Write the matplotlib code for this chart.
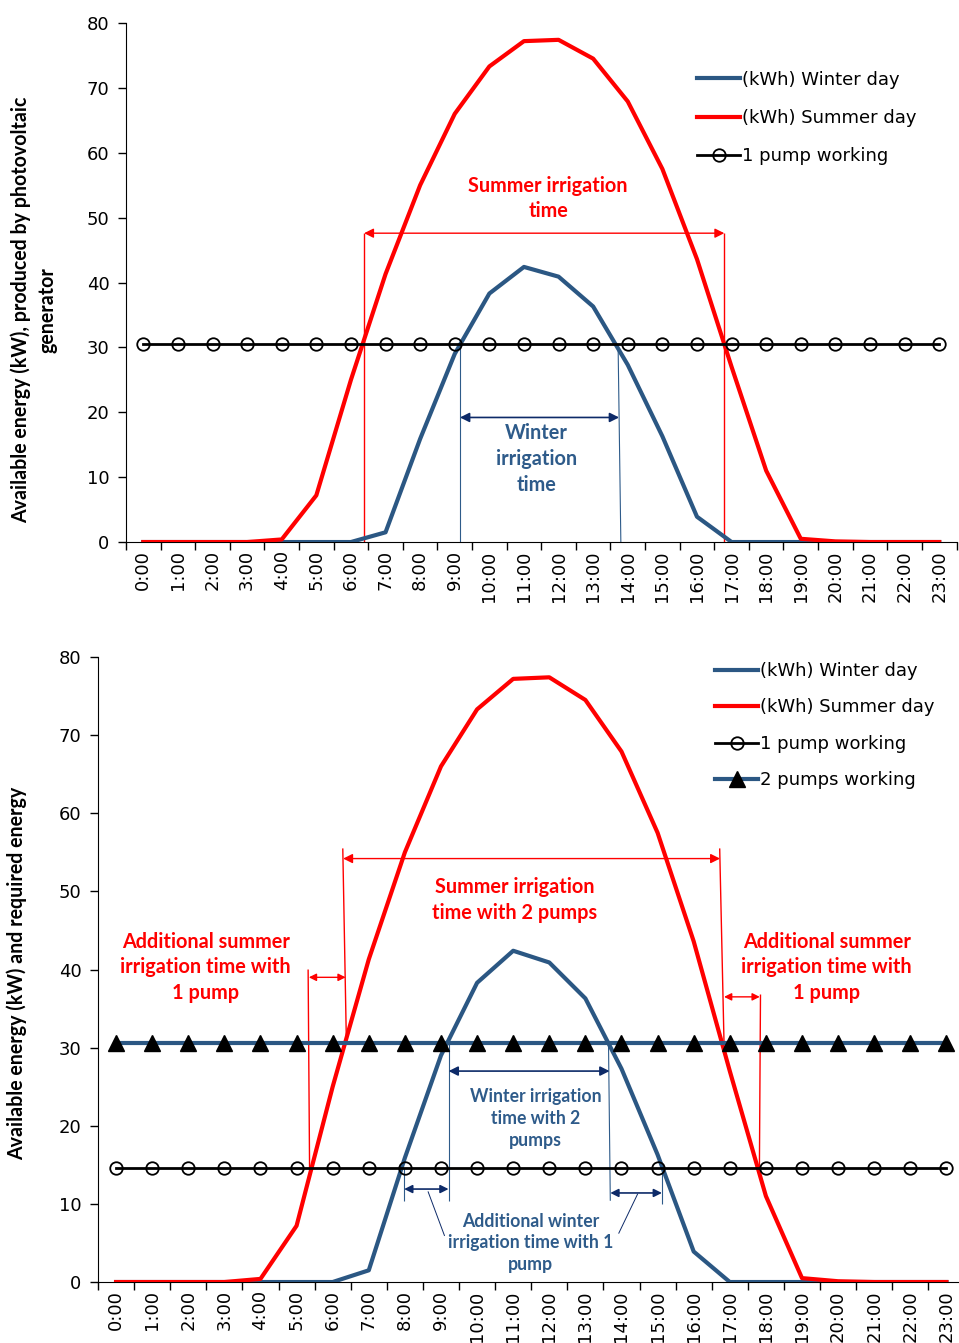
import matplotlib
matplotlib.use('Agg')
import matplotlib.pyplot as plt

# Horas do dia
horas = ['%d:00' % h for h in range(24)]

# Energia disponivel (kW) do gerador fotovoltaico
inverno = [0, 0, 0, 0, 0, 0, 0, 1.5, 15.9, 29.0, 38.3, 42.4, 40.9, 36.3,
           27.3, 16.3, 3.9, 0, 0, 0, 0, 0, 0, 0]
verao = [0, 0, 0, 0, 0.4, 7.2, 25.0, 41.3, 55.0, 66.0, 73.3, 77.2, 77.4, 74.5,
         67.9, 57.5, 43.6, 27.0, 11.0, 0.5, 0.1, 0, 0, 0]

# Energia requerida pelas bombas
uma_bomba_sup = 30.5
uma_bomba = 14.6
duas_bombas = 30.6

VERMELHO = '#ff0000'
AZUL = '#2b5783'
AZUL_TXT = '#2e5b8a'
AZUL_SETA = '#0d2a68'
PRETO = '#000000'

fonte_txt = 'Lato'
x = list(range(24))

W, H = 959.0, 1343.0


def eixos(ax):
    ax.set_xlim(-0.5, 23.5)
    ax.set_ylim(0, 80)
    ax.set_yticks(range(0, 81, 10))
    ax.set_xticks([i - 0.5 for i in range(25)], minor=False)
    ax.set_xticklabels([])
    ax.set_xticks(x, minor=True)
    ax.set_xticklabels(horas, minor=True, rotation=90, fontsize=13)
    ax.tick_params(axis='x', which='minor', length=0, pad=6)
    ax.tick_params(axis='x', which='major', length=6, direction='out', width=1)
    ax.tick_params(axis='y', length=6, width=1, labelsize=13, pad=6)
    for s in ['top', 'right']:
        ax.spines[s].set_visible(False)


def rotulo_y(txt, xp, yp):
    fig.text(xp / W, 1 - yp / H, txt, rotation=90, ha='center', va='center',
             multialignment='center', fontsize=14.1, fontweight='bold',
             family=fonte_txt, linespacing=1.45)


def seta(ax, x0, x1, y, cor, lw=1.0, dupla=True, ms=14):
    estilo = '<|-|>' if dupla else '-|>'
    ax.annotate('', xy=(x1, y), xytext=(x0, y),
                arrowprops=dict(arrowstyle=estilo, color=cor, lw=lw,
                                mutation_scale=ms, shrinkA=0, shrinkB=0))


def linha(ax, xs, ys, cor, lw=1.0):
    ax.plot(xs, ys, color=cor, lw=lw, solid_capstyle='butt')


fig = plt.figure(figsize=(9.59, 13.43), dpi=100)

# ---------------- grafico superior ----------------
ax1 = fig.add_axes([0.1314, 0.5964, 0.8660, 0.3865])
ax1.plot(x, inverno, color=AZUL, lw=3, label='(kWh) Winter day', zorder=3)
ax1.plot(x, verao, color=VERMELHO, lw=3, label='(kWh) Summer day', zorder=3)
ax1.plot(x, [uma_bomba_sup] * 24, color=PRETO, lw=2, marker='o', ms=9,
         mfc='none', mec=PRETO, mew=1.3, label='1 pump working', zorder=4)
eixos(ax1)
rotulo_y('Available energy (kW), produced by photovoltaic\ngenerator', 34, 310)

# tempo de rega de verao
linha(ax1, [6.38, 6.38], [0, 47.6], VERMELHO)
linha(ax1, [16.79, 16.79], [0, 47.6], VERMELHO)
seta(ax1, 6.38, 16.79, 47.6, VERMELHO)
ax1.text(11.7, 53.0, 'Summer irrigation\ntime', color=VERMELHO, ha='center',
         va='center', fontsize=14.3, fontweight='bold', family=fonte_txt,
         linespacing=1.3)

# tempo de rega de inverno
linha(ax1, [9.15, 9.15], [0, 30.5], AZUL_TXT, 0.8)
linha(ax1, [13.72, 13.80], [30.5, 0], AZUL_TXT, 0.8)
seta(ax1, 9.15, 13.75, 19.2, AZUL_SETA, lw=1.2)
ax1.text(11.35, 12.8, 'Winter\nirrigation\ntime', color=AZUL_TXT, ha='center',
         va='center', fontsize=14.3, fontweight='bold', family=fonte_txt,
         linespacing=1.35)

ax1.legend(loc='upper left', bbox_to_anchor=(0.6876, 0.908), frameon=False,
           fontsize=13, handlelength=2.4, handletextpad=0.1,
           labelspacing=1.12, borderaxespad=0, borderpad=0)

# ---------------- grafico inferior ----------------
ax2 = fig.add_axes([0.1022, 0.0454, 0.9035, 0.4654])
ax2.plot(x, inverno, color=AZUL, lw=3, label='(kWh) Winter day', zorder=3)
ax2.plot(x, verao, color=VERMELHO, lw=3, label='(kWh) Summer day', zorder=3)
ax2.plot(x, [uma_bomba] * 24, color=PRETO, lw=2, marker='o', ms=9,
         mfc='none', mec=PRETO, mew=1.3, label='1 pump working', zorder=4)
ax2.plot(x, [duas_bombas] * 24, color=AZUL, lw=3, marker='^', ms=12,
         mfc=PRETO, mec=PRETO, label='2 pumps working', zorder=4)
eixos(ax2)
rotulo_y('Available energy (kW) and required energy', 17, 973)

# tempo de rega de verao com 2 bombas
linha(ax2, [6.28, 6.38], [55.5, 30.6], VERMELHO)
linha(ax2, [16.72, 16.84], [55.5, 30.6], VERMELHO)
seta(ax2, 6.29, 16.73, 54.2, VERMELHO)
ax2.text(11.04, 48.9, 'Summer irrigation\ntime with 2 pumps', color=VERMELHO,
         ha='center', va='center', fontsize=14.3, fontweight='bold',
         family=fonte_txt, linespacing=1.4)

# tempo adicional de verao com 1 bomba
linha(ax2, [5.32, 5.36], [40.0, 14.6], VERMELHO)
linha(ax2, [17.85, 17.82], [36.8, 14.6], VERMELHO)
seta(ax2, 5.34, 6.36, 39.0, VERMELHO, ms=11)
seta(ax2, 16.84, 17.83, 36.5, VERMELHO, ms=11)
for xt in [2.48, 19.68]:
    ax2.text(xt, 40.3, 'Additional summer\nirrigation time with\n1 pump',
             color=VERMELHO, ha='center', va='center', fontsize=14.3,
             fontweight='bold', family=fonte_txt, linespacing=1.35)

# tempo de rega de inverno com 2 bombas
linha(ax2, [9.21, 9.21], [30.6, 10.4], AZUL_TXT, 0.8)
linha(ax2, [13.64, 13.69], [30.6, 10.4], AZUL_TXT, 0.8)
seta(ax2, 9.21, 13.67, 27.0, AZUL_SETA, lw=1.2)
ax2.text(11.62, 20.9, 'Winter irrigation\ntime with 2\npumps', color=AZUL_TXT,
         ha='center', va='center', fontsize=12.7, fontweight='bold',
         family=fonte_txt, linespacing=1.35)

# tempo adicional de inverno com 1 bomba
linha(ax2, [7.98, 7.98], [14.6, 10.4], AZUL_TXT, 0.8)
linha(ax2, [15.12, 15.12], [14.6, 10.0], AZUL_TXT, 0.8)
seta(ax2, 7.98, 9.21, 11.9, AZUL_SETA, lw=1.2, ms=12)
seta(ax2, 13.69, 15.12, 11.4, AZUL_SETA, lw=1.2, ms=12)
linha(ax2, [8.64, 9.10], [11.6, 5.9], AZUL_SETA, 0.7)
linha(ax2, [14.45, 13.92], [11.3, 6.2], AZUL_SETA, 0.7)
ax2.text(11.48, 5.0, 'Additional winter\nirrigation time with 1\npump',
         color=AZUL_TXT, ha='center', va='center', fontsize=12.7,
         fontweight='bold', family=fonte_txt, linespacing=1.35)

ax2.legend(loc='upper left', bbox_to_anchor=(0.712, 0.992), frameon=False,
           fontsize=13, handlelength=2.4, handletextpad=0.1,
           labelspacing=1.02, borderaxespad=0, borderpad=0)

plt.savefig('out.png', dpi=100)
